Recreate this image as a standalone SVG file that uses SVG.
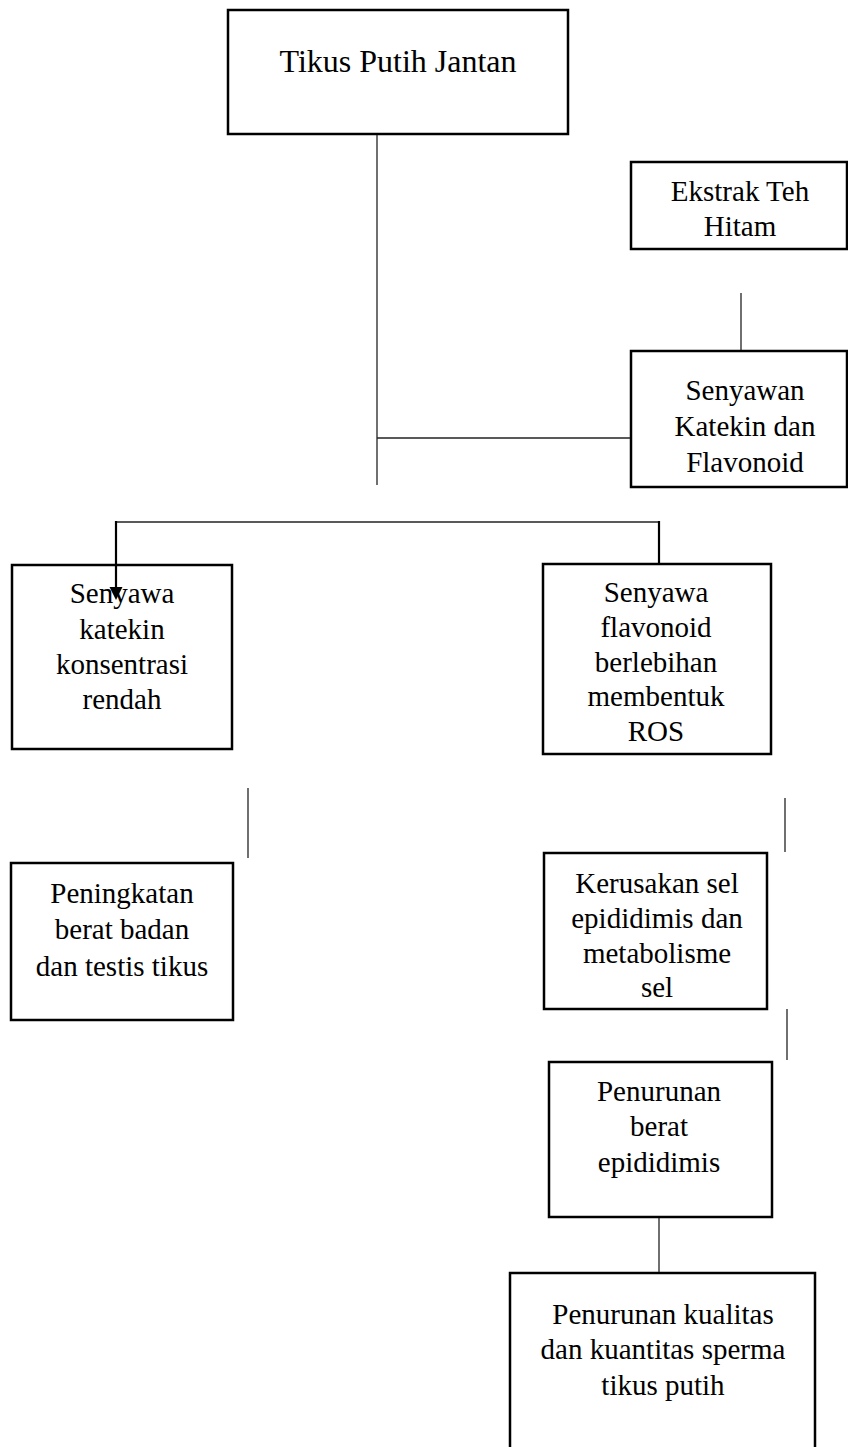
<svg xmlns="http://www.w3.org/2000/svg" width="848" height="1447" viewBox="0 0 848 1447">
<style>
.box{fill:#fff;stroke:#000;stroke-width:2.5}
.t{font-family:"Liberation Serif","Times New Roman",serif;font-size:29px;fill:#000;text-anchor:middle}
.title{font-size:32px}
.c{stroke:#222;stroke-width:1.3;fill:none}
.c2{stroke:#000;stroke-width:2.2;fill:none}
</style>
<g id="n-tikus">
<rect class="box" x="228" y="10" width="340" height="124"/>
<text class="t title" x="398" y="72">Tikus Putih Jantan</text>
</g>
<g id="n-ekstrak">
<rect class="box" x="631" y="162" width="216" height="87"/>
<text class="t" x="740" y="201">Ekstrak Teh</text>
<text class="t" x="740" y="236">Hitam</text>
</g>
<g id="n-senyawan">
<rect class="box" x="631" y="351" width="216" height="136"/>
<text class="t" x="745" y="400">Senyawan</text>
<text class="t" x="745" y="436">Katekin dan</text>
<text class="t" x="745" y="472">Flavonoid</text>
</g>
<g id="n-katekin">
<rect class="box" x="12" y="565" width="220" height="184"/>
<text class="t" x="122" y="603">Senyawa</text>
<text class="t" x="122" y="639">katekin</text>
<text class="t" x="122" y="674">konsentrasi</text>
<text class="t" x="122" y="709">rendah</text>
</g>
<g id="n-flavonoid">
<rect class="box" x="543" y="564" width="228" height="190"/>
<text class="t" x="656" y="602">Senyawa</text>
<text class="t" x="656" y="637">flavonoid</text>
<text class="t" x="656" y="672">berlebihan</text>
<text class="t" x="656" y="706">membentuk</text>
<text class="t" x="656" y="741">ROS</text>
</g>
<g id="n-peningkatan">
<rect class="box" x="11" y="863" width="222" height="157"/>
<text class="t" x="122" y="903">Peningkatan</text>
<text class="t" x="122" y="939">berat badan</text>
<text class="t" x="122" y="976">dan testis tikus</text>
</g>
<g id="n-kerusakan">
<rect class="box" x="544" y="853" width="223" height="156"/>
<text class="t" x="657" y="893">Kerusakan sel</text>
<text class="t" x="657" y="928">epididimis dan</text>
<text class="t" x="657" y="963">metabolisme</text>
<text class="t" x="657" y="997">sel</text>
</g>
<g id="n-penurunan-berat">
<rect class="box" x="549" y="1062" width="223" height="155"/>
<text class="t" x="659" y="1101">Penurunan</text>
<text class="t" x="659" y="1136">berat</text>
<text class="t" x="659" y="1172">epididimis</text>
</g>
<g id="n-penurunan-kualitas">
<rect class="box" x="510" y="1273" width="305" height="180"/>
<text class="t" x="663" y="1324">Penurunan kualitas</text>
<text class="t" x="663" y="1359">dan kuantitas sperma</text>
<text class="t" x="663" y="1395">tikus putih</text>
</g>
<g id="connectors">
<line class="c" x1="377" y1="135" x2="377" y2="485"/>
<line class="c" x1="377" y1="438" x2="630" y2="438"/>
<line class="c" x1="741" y1="293" x2="741" y2="350"/>
<line class="c" x1="116" y1="522" x2="659" y2="522"/>
<line class="c2" x1="659" y1="521" x2="659" y2="563"/>
<line class="c2" x1="116" y1="521" x2="116" y2="588"/>
<path d="M109.5,587 L122.5,587 L116,600 Z" fill="#000"/>
<line class="c" x1="248" y1="788" x2="248" y2="858"/>
<line class="c" x1="785" y1="798" x2="785" y2="852"/>
<line class="c" x1="787" y1="1009" x2="787" y2="1060"/>
<line class="c" x1="659" y1="1218" x2="659" y2="1272"/>
</g>
</svg>
